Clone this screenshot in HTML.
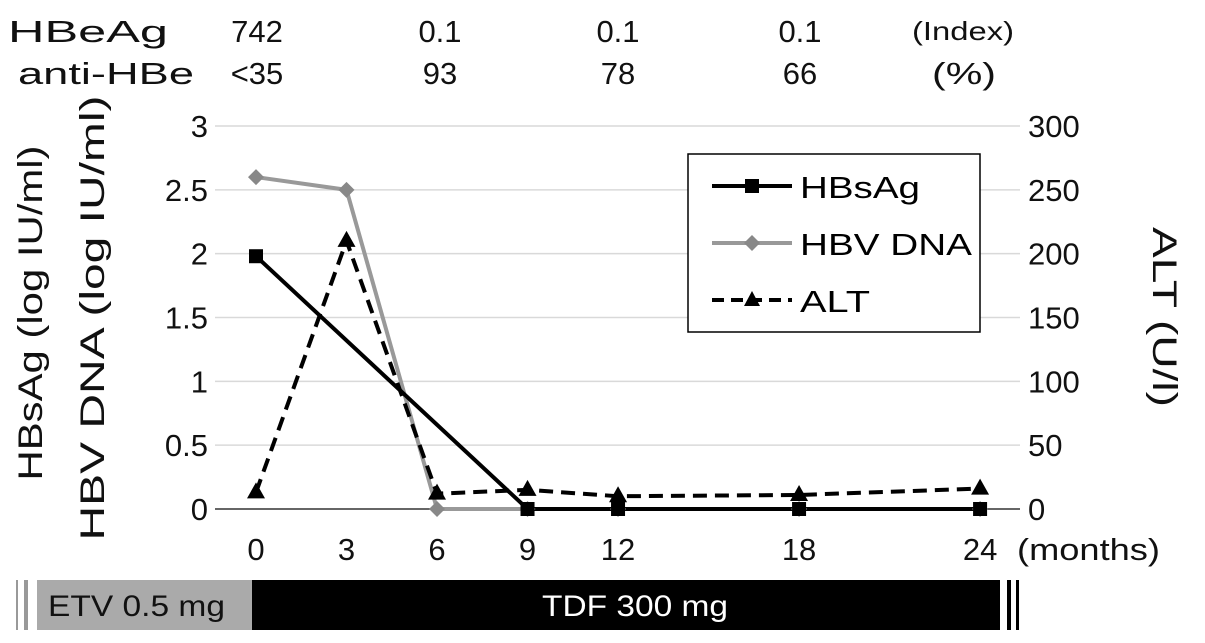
<!DOCTYPE html>
<html><head><meta charset="utf-8">
<style>
body{margin:0;background:#fff;}
svg{display:block;font-family:"Liberation Sans",Arial,sans-serif;}
</style></head>
<body>
<svg id="chart" width="1205" height="643" viewBox="0 0 1205 643">
<g id="grid"></g>
<g id="axes"></g>
<g id="series"></g>
<g font-size="31" fill="#111" lengthAdjust="spacingAndGlyphs">
 <text x="8" y="42" textLength="160" lengthAdjust="spacingAndGlyphs">HBeAg</text>
 <text x="18" y="84" textLength="176" lengthAdjust="spacingAndGlyphs">anti-HBe</text>
 <text x="257" y="42" text-anchor="middle">742</text>
 <text x="257" y="84" text-anchor="middle">&lt;35</text>
 <text x="440" y="42" text-anchor="middle">0.1</text>
 <text x="440" y="84" text-anchor="middle">93</text>
 <text x="618" y="42" text-anchor="middle">0.1</text>
 <text x="618" y="84" text-anchor="middle">78</text>
 <text x="800" y="42" text-anchor="middle">0.1</text>
 <text x="800" y="84" text-anchor="middle">66</text>
 <text x="912" y="40" font-size="26" textLength="102" lengthAdjust="spacingAndGlyphs">(Index)</text>
 <text x="932" y="84" textLength="64" lengthAdjust="spacingAndGlyphs">(%)</text>
</g>
<text transform="translate(42,313) rotate(-90)" text-anchor="middle" font-size="34" fill="#111" textLength="335" lengthAdjust="spacingAndGlyphs">HBsAg (log IU/ml)</text>
<text transform="translate(104,318) rotate(-90)" text-anchor="middle" font-size="34" fill="#111" textLength="445" lengthAdjust="spacingAndGlyphs">HBV DNA (log IU/ml)</text>
<text transform="translate(1153,317) rotate(90)" text-anchor="middle" font-size="34" fill="#111" textLength="180" lengthAdjust="spacingAndGlyphs">ALT (U/l)</text>
<text x="1017" y="560" font-size="31" fill="#111" textLength="143" lengthAdjust="spacingAndGlyphs">(months)</text>
<g>
 <rect x="688" y="154" width="292" height="178" fill="#fff" stroke="#000" stroke-width="1.5"/>
 <line x1="712" y1="186" x2="792" y2="186" stroke="#000" stroke-width="4"/>
 <rect x="745" y="179" width="14" height="14" fill="#000"/>
 <text x="800" y="198" font-size="31" textLength="120" lengthAdjust="spacingAndGlyphs">HBsAg</text>
 <line x1="712" y1="243" x2="792" y2="243" stroke="#999" stroke-width="4"/>
 <path d="M752,235 L760,243 L752,251 L744,243Z" fill="#888"/>
 <text x="800" y="255" font-size="31" textLength="172" lengthAdjust="spacingAndGlyphs">HBV DNA</text>
 <line x1="712" y1="300" x2="792" y2="300" stroke="#000" stroke-width="4" stroke-dasharray="12,7"/>
 <path d="M752,291 L760,306 L744,306Z" fill="#000"/>
 <text x="800" y="312" font-size="31" textLength="70" lengthAdjust="spacingAndGlyphs">ALT</text>
</g>
<g>
 <rect x="16" y="580" width="2" height="50" fill="#999"/>
 <rect x="24" y="580" width="4" height="50" fill="#999"/>
 <rect x="37" y="580" width="215" height="50" fill="#aaa"/>
 <text x="48" y="616" font-size="30" fill="#111" textLength="177" lengthAdjust="spacingAndGlyphs">ETV 0.5 mg</text>
 <rect x="252" y="580" width="748" height="50" fill="#000"/>
 <text x="542" y="616" font-size="30" fill="#fff" textLength="186" lengthAdjust="spacingAndGlyphs">TDF 300 mg</text>
 <rect x="1007" y="580" width="4" height="50" fill="#000"/>
 <rect x="1016" y="580" width="3" height="50" fill="#000"/>
</g>
</svg>
<script>
const xTicks=[0,3,6,9,12,18,24];
const yTicks=[0,0.5,1,1.5,2,2.5,3];
const y2Ticks=[0,50,100,150,200,250,300];
const hbsagMonths=[0,9,12,18,24];
const hbsagValues=[1.98,0,0,0,0];
const dnaMonths=[0,3,6,9,12,18,24];
const dnaValues=[2.6,2.5,0,0,0,0,0];
const altMonths=[0,3,6,9,12,18,24];
const altValues=[13,210,12,15,10,11,16];
const NS='http://www.w3.org/2000/svg';
const X=m=>256+m*30.17;
const Y=v=>509-v/3*383;
const Y2=v=>509-v/300*383;
function mk(tag,attrs,parent){const e=document.createElementNS(NS,tag);for(const k in attrs)e.setAttribute(k,attrs[k]);parent.appendChild(e);return e;}
const grid=document.getElementById('grid'),axes=document.getElementById('axes'),ser=document.getElementById('series');
yTicks.forEach((t,i)=>{
 const l=mk('line',{x1:215,x2:1020,y1:Y(t),y2:Y(t),stroke:t===0?'#333':'#d9d9d9','stroke-width':1.5},grid);
 
 
 const tx=mk('text',{x:208,y:Y(t)+11,'text-anchor':'end','font-size':31,fill:'#111'},axes);tx.textContent=String(t);
 
 
});
y2Ticks.forEach(t=>{
 const tx=mk('text',{x:1028,y:Y2(t)+11,'font-size':31,fill:'#111'},axes);tx.textContent=String(t);
 
 
});
xTicks.forEach(t=>{
 const tx=mk('text',{x:X(t),y:560,'text-anchor':'middle','font-size':31,fill:'#111'},axes);tx.textContent=String(t);
 
 
});
function pts(ms,vs,yf){return ms.map((m,i)=>X(m)+','+yf(vs[i])).join(' ');}
let p=mk('polyline',{points:pts(dnaMonths,dnaValues,Y),fill:'none',stroke:'#999','stroke-width':4},ser);


p=mk('polyline',{points:pts(hbsagMonths,hbsagValues,Y),fill:'none',stroke:'#000','stroke-width':4},ser);


p=mk('polyline',{points:pts(altMonths,altValues,Y2),fill:'none',stroke:'#000','stroke-width':4,'stroke-dasharray':'14,8'},ser);


dnaMonths.forEach((m,i)=>{const x=X(m),y=Y(dnaValues[i]);
 const d=mk('path',{d:`M${x},${y-8} L${x+8},${y} L${x},${y+8} L${x-8},${y}Z`,fill:'#888'},ser);
 
 });
hbsagMonths.forEach((m,i)=>{const x=X(m),y=Y(hbsagValues[i]);
 const r=mk('rect',{x:x-7,y:y-7,width:14,height:14,fill:'#000'},ser);
 
 });
altMonths.forEach((m,i)=>{const x=X(m),y=Y2(altValues[i]);
 const t=mk('path',{d:`M${x},${y-10} L${x+9},${y+6} L${x-9},${y+6}Z`,fill:'#000'},ser);
 
 });
</script>
</body></html>
